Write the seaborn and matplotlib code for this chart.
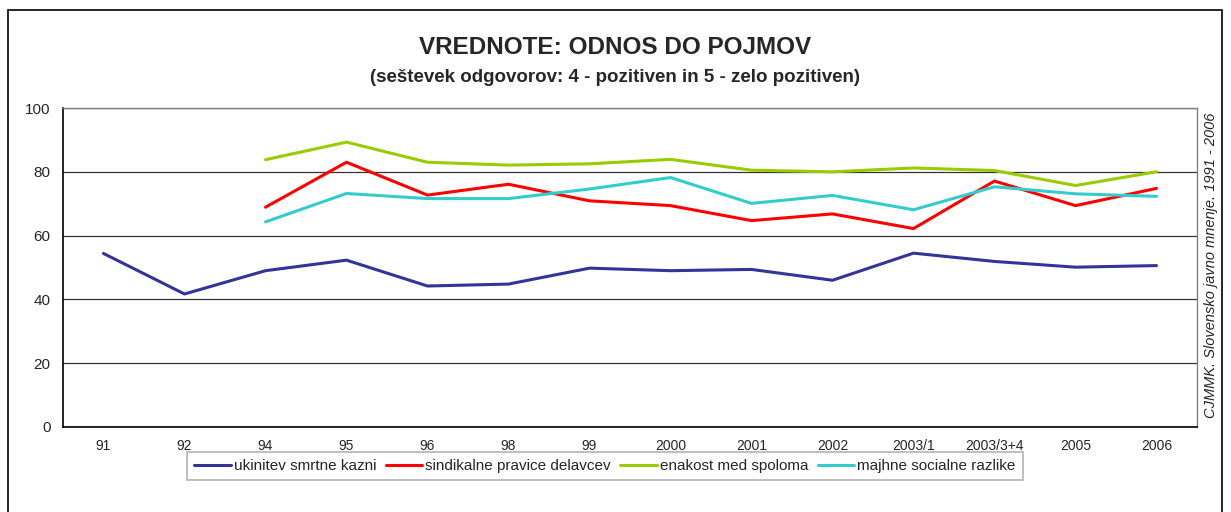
import numpy as np
import pandas as pd
import matplotlib.pyplot as plt
import matplotlib.patches as patches
from matplotlib.ticker import FixedLocator
import seaborn as sns

# data
years = ['91', '92', '94', '95', '96', '98', '99', '2000', '2001', '2002',
         '2003/1', '2003/3+4', '2005', '2006']
smrtna_kazen = [54.4, 41.7, 49.0, 52.3, 44.2, 44.8, 49.8, 49.0, 49.4, 46.0,
                54.5, 51.9, 50.1, 50.6]
sindikalne = [np.nan, np.nan, 68.9, 83.0, 72.7, 76.1, 70.9, 69.4, 64.7, 66.8,
              62.2, 77.1, 69.4, 74.8]
enakost = [np.nan, np.nan, 83.8, 89.3, 83.0, 82.1, 82.5, 83.9, 80.5, 80.0,
           81.2, 80.4, 75.7, 80.0]
razlike = [np.nan, np.nan, 64.3, 73.2, 71.6, 71.6, 74.6, 78.2, 70.1, 72.6,
           68.1, 75.3, 73.1, 72.3]

series_names = ['ukinitev smrtne kazni', 'sindikalne pravice delavcev',
                'enakost med spoloma', 'majhne socialne razlike']
colors = ['#333399', '#ff0000', '#99cc00', '#33cccc']

frames = []
for name, vals in zip(series_names, [smrtna_kazen, sindikalne, enakost, razlike]):
    frames.append(pd.DataFrame({'pos': range(len(years)), 'value': vals, 'serija': name}))
df = pd.concat(frames).dropna()

sns.set_style('white')
plt.rcParams['font.family'] = ['Liberation Sans', 'DejaVu Sans']

fig = plt.figure(figsize=(12.31, 5.12), dpi=100)
ax = fig.add_axes([63 / 1231, 1 - 427 / 512, (1197 - 63) / 1231, (427 - 108) / 512])

sns.lineplot(data=df, x='pos', y='value', hue='serija', hue_order=series_names,
             palette=colors, linewidth=2.2, ax=ax, legend=False, sort=False)

ax.set_xlim(-0.5, len(years) - 0.5)
ax.set_ylim(0, 100)
ax.set_yticks([0, 20, 40, 60, 80, 100])
ax.set_xticks(range(len(years)))
ax.set_xticklabels(years, fontsize=10)
ax.tick_params(axis='x', which='major', length=0, pad=9)
ax.xaxis.set_minor_locator(FixedLocator(np.arange(-0.5, len(years), 1)))
ax.tick_params(axis='x', which='minor', length=5, width=1, color='black', direction='out')
ax.tick_params(axis='y', length=5, width=1, color='black', direction='out', labelsize=11, pad=4)
ax.set_xlabel('')
ax.set_ylabel('')

ax.grid(axis='y', color='#333333', linewidth=0.9)
ax.set_axisbelow(True)
for side in ['left', 'bottom']:
    ax.spines[side].set_color('black')
    ax.spines[side].set_linewidth(1.2)
for side in ['top', 'right']:
    ax.spines[side].set_color('#808080')
    ax.spines[side].set_linewidth(1)

fig.text(0.5, 1 - 47 / 512, 'VREDNOTE: ODNOS DO POJMOV', ha='center', va='center',
         fontsize=17.5, fontweight='bold')
fig.text(0.5, 1 - 77 / 512, '(seštevek odgovorov: 4 - pozitiven in 5 - zelo pozitiven)',
         ha='center', va='center', fontsize=13.5, fontweight='bold')
fig.text(1211 / 1231, 1 - 265 / 512, 'CJMMK. Slovensko javno mnenje. 1991 - 2006',
         ha='center', va='center', rotation=90, fontsize=10.5, style='italic')

handles = [plt.Line2D([], [], color=c, linewidth=2.2) for c in colors]
leg = fig.legend(handles, series_names, loc='center', bbox_to_anchor=(605 / 1231, 1 - 466 / 512),
                 ncol=4, frameon=True, fancybox=False, fontsize=11, handlelength=2.4,
                 handletextpad=0.2, columnspacing=0.6, borderpad=0.45)
leg.get_frame().set_edgecolor('#a0a0a0')
leg.get_frame().set_linewidth(1.2)

# outer chart border
fig.patches.append(patches.Rectangle((8 / 1231, -0.05), (1222 - 8) / 1231, 1.05 - 10 / 512,
                                     transform=fig.transFigure, fill=False,
                                     edgecolor='black', linewidth=1.2))

fig.savefig('out.png', dpi=100)
